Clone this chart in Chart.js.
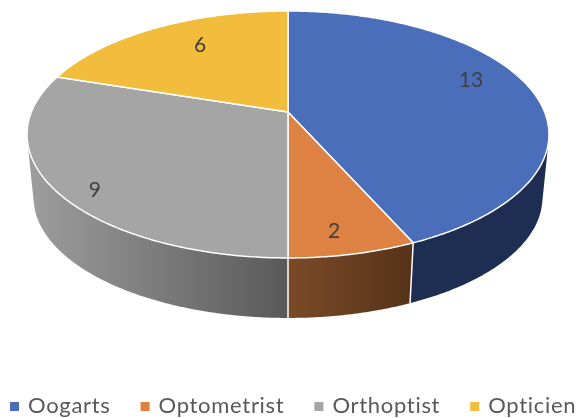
<!DOCTYPE html>
<html>
<head>
<meta charset="utf-8">
<script src="https://cdn.jsdelivr.net/npm/chart.js@4"></script>
<style>
    html, body { margin: 0; padding: 0; background: #fff; }
    canvas { display: block; }
</style>
</head>
<body>
<canvas id="chart" width="578" height="418"></canvas>
<script>
const categories = ['Oogarts', 'Optometrist', 'Orthoptist', 'Opticien'];
const counts = [13, 2, 9, 6];
const topColors = ['#4b6ebb', '#dd8242', '#a5a5a5', '#f2bc3c'];
const wallFrom = ['#1d2e52', '#7b4a27', '#9e9e9e', '#8f6f20'];
const wallTo = ['#1d2e52', '#553219', '#595959', '#8f6f20'];

// nudges of the value labels, the original does not centre them on the slice
const labelNudges = [[0, -14], [0, 18], [-24, 21], [14, -2]];

// tilt of the disc: maps the unit circle on a perspective ellipse
const disc = { cx: 288, cy: 112, a: 256.6, b: 99, k: -0.182 };
const wall = { shrink: 0.975, drop: 63.65 };

function project(angle, r, lower) {
    const u = Math.cos(angle) * r;
    const v = Math.sin(angle) * r;
    const w = 1 + disc.k * v;
    let x = disc.a * u / w;
    let y = (disc.cy + disc.b * v) / w - disc.cy;
    if (lower) {
        x *= wall.shrink;
        y = y * wall.shrink + wall.drop;
    }
    return { x: disc.cx + x, y: disc.cy + y };
}

function arcPoints(start, end, lower) {
    const steps = Math.ceil((end - start) / 0.01);
    const pts = [];
    for (let i = 0; i <= steps; i++) {
        pts.push(project(start + (end - start) * i / steps, 1, lower));
    }
    return pts;
}

function addPoly(ctx, pts) {
    pts.forEach((p, i) => i ? ctx.lineTo(p.x, p.y) : ctx.moveTo(p.x, p.y));
    ctx.closePath();
}

function tracePath(ctx, pts) {
    ctx.beginPath();
    addPoly(ctx, pts);
}

function area(pts) {
    let sum = 0;
    pts.forEach((p, i) => {
        const q = pts[(i + 1) % pts.length];
        sum += p.x * q.y - q.x * p.y;
    });
    return sum;
}

const tiltedPie = {
    id: 'tiltedPie',
    // the library works out the slices, only the painting is replaced
    beforeDatasetDraw(chart, args) {
        const ctx = chart.ctx;
        const arcs = args.meta.data;
        const mid = el => (el.startAngle + el.endAngle) / 2;
        const order = arcs.map((el, i) => i).sort((p, q) => Math.sin(mid(arcs[p])) - Math.sin(mid(arcs[q])));

        ctx.save();
        order.forEach(i => {
            const el = arcs[i];
            const up = arcPoints(el.startAngle, el.endAngle, false);
            const down = arcPoints(el.startAngle, el.endAngle, true);
            const xs = up.concat(down).map(p => p.x);
            const grad = ctx.createLinearGradient(Math.min(...xs), 0, Math.max(...xs), 0);
            grad.addColorStop(0, wallFrom[i]);
            grad.addColorStop(1, wallTo[i]);
            // strips in one path with the same winding, so the sides of the
            // drum get swept and no seams show between them
            ctx.beginPath();
            for (let s = 0; s < up.length - 1; s++) {
                const strip = [up[s], up[s + 1], down[s + 1], down[s]];
                addPoly(ctx, area(strip) < 0 ? strip.reverse() : strip);
            }
            ctx.fillStyle = grad;
            ctx.fill();
        });

        // seams on the front of the wall
        ctx.strokeStyle = '#fff';
        ctx.lineWidth = 1.5;
        arcs.forEach(el => {
            if (Math.sin(el.startAngle) > 0) {
                const p = project(el.startAngle, 1, false);
                const q = project(el.startAngle, 1, true);
                ctx.beginPath();
                ctx.moveTo(p.x, p.y);
                ctx.lineTo(q.x, q.y);
                ctx.stroke();
            }
        });

        ctx.lineJoin = 'round';
        arcs.forEach((el, i) => {
            const pts = arcPoints(el.startAngle, el.endAngle, false);
            pts.unshift(project(0, 0, false));
            tracePath(ctx, pts);
            ctx.fillStyle = topColors[i];
            ctx.fill();
            ctx.stroke();
        });

        ctx.fillStyle = '#404040';
        ctx.font = '21px Lato';
        ctx.textAlign = 'center';
        ctx.textBaseline = 'middle';
        arcs.forEach((el, i) => {
            const p = project(mid(el), 0.75, false);
            ctx.fillText(String(counts[i]), p.x + labelNudges[i][0], p.y + labelNudges[i][1]);
        });
        ctx.restore();
        return false;
    },
    // legend row is wider than the built in legend allows before wrapping
    afterDraw(chart) {
        const ctx = chart.ctx;
        ctx.save();
        ctx.font = '22px Lato';
        ctx.letterSpacing = '0.7px';
        ctx.textBaseline = 'alphabetic';
        ctx.textAlign = 'left';
        let x = 10;
        categories.forEach((name, i) => {
            ctx.fillStyle = topColors[i];
            ctx.fillRect(x, 402, 9, 9);
            x += 18;
            ctx.fillStyle = '#595959';
            ctx.fillText(name, x, 413);
            x += ctx.measureText(name).width + 30;
        });
        ctx.restore();
    }
};

new Chart(document.getElementById('chart').getContext('2d'), {
    type: 'pie',
    data: {
        labels: categories,
        datasets: [{
            data: counts,
            backgroundColor: topColors,
            borderColor: '#fff'
        }]
    },
    options: {
        responsive: false,
        animation: false,
        plugins: {
            legend: { display: false },
            tooltip: { enabled: false }
        }
    },
    plugins: [tiltedPie]
});
</script>
</body>
</html>
